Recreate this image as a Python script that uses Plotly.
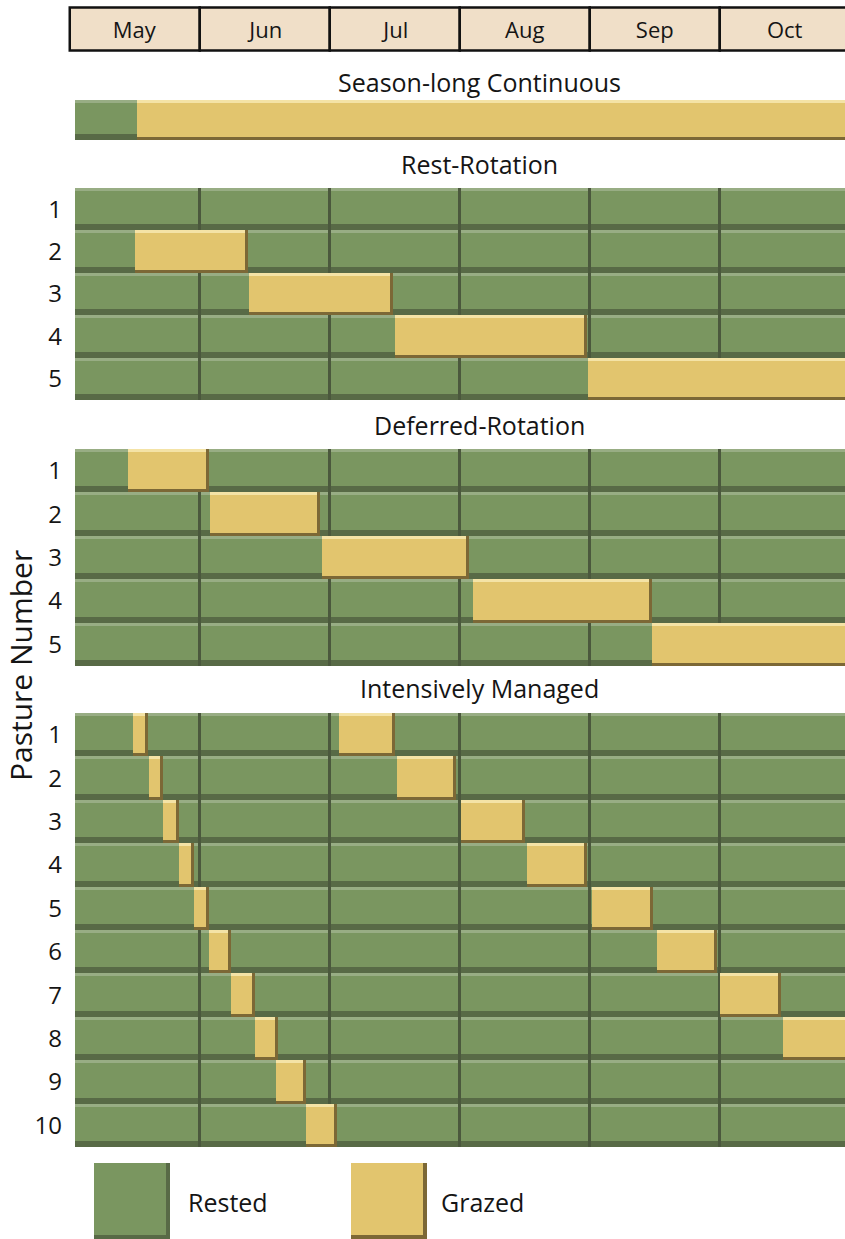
import plotly.graph_objects as go

# ---------------- data ----------------
MONTHS = ["May", "Jun", "Jul", "Aug", "Sep", "Oct"]
MONTH_START = [0, 1, 2, 3, 4, 5]
SEASON_START = 0.0
SEASON_END = 6.0

GROUP_TITLES = ["Season-long Continuous", "Rest-Rotation", "Deferred-Rotation", "Intensively Managed"]
GROUP_ROWS = [1, 5, 5, 10]

# grazed periods (months after May 1)
CONT_ROWS = [1]
CONT_START = [0.52]
CONT_END = [6.0]

REST_ROWS = [2, 3, 4, 5]
REST_START = [0.50, 1.38, 2.50, 3.99]
REST_END = [1.37, 2.49, 3.98, 6.0]

DEF_ROWS = [1, 2, 3, 4, 5]
DEF_START = [0.45, 1.08, 1.94, 3.10, 4.48]
DEF_END = [1.07, 1.93, 3.07, 4.48, 6.0]

INT1_ROWS = [1, 2, 3, 4, 5, 6, 7, 8, 9, 10]
INT1_START = [0.49, 0.61, 0.72, 0.84, 0.96, 1.07, 1.24, 1.43, 1.59, 1.82]
INT1_END = [0.60, 0.72, 0.84, 0.96, 1.07, 1.24, 1.43, 1.60, 1.82, 2.06]

INT2_ROWS = [1, 2, 3, 4, 5, 6, 7, 8]
INT2_START = [2.07, 2.52, 3.01, 3.52, 4.02, 4.52, 5.00, 5.49]
INT2_END = [2.50, 2.97, 3.50, 3.98, 4.49, 4.98, 5.47, 6.0]

LEGEND_LABELS = ["Rested", "Grazed"]

# ---------------- layout constants ----------------
W, H = 845, 1239
FONT = "Open Sans"
TXT = "#151515"
X0_PX, PPM = 69.5, 130.0     # pixel of May 1, pixels per month
PLOT_LEFT = 75
GROUP_TOP = [100, 188, 449, 713]
GROUP_BOTTOM = [140, 400, 666, 1147]
TITLE_Y = [82, 164, 425, 688]
TITLE_X = 479

GREEN = "#7a9660"
GREEN_HI = "#98ad84"
GREEN_LO = "#586a46"
DIVIDER = "#4b583d"
YELLOW = "#e2c56e"
YELLOW_HI = "#f4e3a6"
YELLOW_LO = "#7c6836"
HEADER_BG = "#f0dfc8"


def px_to_paper_y(py):
    return 1 - py / H


fig = go.Figure()

grazed = [
    [(CONT_ROWS, CONT_START, CONT_END)],
    [(REST_ROWS, REST_START, REST_END)],
    [(DEF_ROWS, DEF_START, DEF_END)],
    [(INT1_ROWS, INT1_START, INT1_END), (INT2_ROWS, INT2_START, INT2_END)],
]


def hbar(ya, rows, base, length, color, offset, width):
    fig.add_trace(go.Bar(
        orientation="h", y=rows, base=base, x=length,
        marker=dict(color=color, line=dict(width=0)),
        offset=offset, width=width, xaxis="x", yaxis=ya,
        hoverinfo="skip", showlegend=False))


for g, n in enumerate(GROUP_ROWS):
    ya = "y" if g == 0 else f"y{g + 1}"
    pitch = (GROUP_BOTTOM[g] - GROUP_TOP[g]) / n
    t_hi = 3.0 / pitch
    t_lo = 6.0 / pitch
    rows = list(range(1, n + 1))
    full = [SEASON_END - SEASON_START] * n
    basev = [SEASON_START] * n
    # rested background
    hbar(ya, rows, basev, full, GREEN, -0.5, 1.0)
    hbar(ya, rows, basev, full, GREEN_HI, -0.5, t_hi)
    hbar(ya, rows, basev, full, GREEN_LO, 0.5 - t_lo, t_lo)
    # month dividers
    if g > 0:
        d = 3.0 / PPM
        drows, dbase, dlen = [], [], []
        for r in rows:
            for m in MONTH_START[1:]:
                drows.append(r)
                dbase.append(m - d / 2)
                dlen.append(d)
        hbar(ya, drows, dbase, dlen, DIVIDER, -0.5, 1.0)
    # grazed
    for (gr, gs, ge) in grazed[g]:
        glen = [e - s for s, e in zip(gs, ge)]
        hbar(ya, gr, gs, glen, YELLOW, -0.5, 1.0)
        hbar(ya, gr, gs, glen, YELLOW_HI, -0.5, t_hi)
        dr = 3.0 / PPM
        hbar(ya, gr, [e - dr for e in ge], [dr] * len(ge), YELLOW_LO, -0.5, 1.0)
        hbar(ya, gr, gs, glen, YELLOW_LO, 0.5 - 3.0 / pitch, 3.0 / pitch)

# header
fig.add_trace(go.Bar(
    orientation="h", y=[0] * len(MONTHS), base=MONTH_START, x=[1] * len(MONTHS),
    width=1.0, text=MONTHS, textposition="inside", insidetextanchor="middle",
    constraintext="none",
    textfont=dict(family=FONT, size=22, color=TXT),
    marker=dict(color=HEADER_BG, line=dict(color="#111111", width=2.5)),
    xaxis="x2", yaxis="y5", hoverinfo="skip", showlegend=False))

layout_axes = {}
layout_axes["xaxis"] = dict(domain=[PLOT_LEFT / W, 1],
                            range=[(PLOT_LEFT - X0_PX) / PPM, (W - X0_PX) / PPM],
                            visible=False, anchor="y", fixedrange=True)
layout_axes["xaxis2"] = dict(domain=[0, 1], range=[-X0_PX / PPM, (W - X0_PX) / PPM],
                             visible=False, anchor="y5", fixedrange=True)
for g, n in enumerate(GROUP_ROWS):
    key = "yaxis" if g == 0 else f"yaxis{g + 1}"
    layout_axes[key] = dict(
        domain=[px_to_paper_y(GROUP_BOTTOM[g]), px_to_paper_y(GROUP_TOP[g])],
        range=[n + 0.5, 0.5], anchor="x",
        tickmode="array", tickvals=list(range(1, n + 1)),
        ticktext=[str(i) for i in range(1, n + 1)],
        showticklabels=(g > 0), ticks="", ticklabelstandoff=12,
        showgrid=False, zeroline=False, showline=False,
        tickfont=dict(family=FONT, size=24, color=TXT), fixedrange=True)
hdr_top, hdr_bot = 8, 51
unit = hdr_bot - hdr_top
layout_axes["yaxis5"] = dict(
    domain=[px_to_paper_y(hdr_bot + 0.05 * unit), px_to_paper_y(hdr_top - 0.05 * unit)],
    range=[-0.55, 0.55], visible=False, anchor="x2", fixedrange=True)

annotations = []
for g, title in enumerate(GROUP_TITLES):
    annotations.append(dict(text=title, x=TITLE_X / W, y=px_to_paper_y(TITLE_Y[g]),
                            xref="paper", yref="paper", showarrow=False,
                            xanchor="center", yanchor="middle",
                            font=dict(family=FONT, size=25, color=TXT)))
annotations.append(dict(text="Pasture Number", x=21 / W, y=px_to_paper_y(666),
                        xref="paper", yref="paper", showarrow=False, textangle=-90,
                        xanchor="center", yanchor="middle",
                        font=dict(family=FONT, size=30, color=TXT)))

# legend swatches
shapes = []
LEG_X = [94, 351]
LEG_TEXT_X = [186, 439]
LEG_COLORS = [(GREEN, GREEN_LO), (YELLOW, YELLOW_LO)]
sw, top, bot = 76, 1163, 1239
for i, lab in enumerate(LEGEND_LABELS):
    x0 = LEG_X[i]
    main, dark = LEG_COLORS[i]
    shapes.append(dict(type="rect", xref="paper", yref="paper",
                       x0=x0 / W, x1=(x0 + sw) / W, y0=px_to_paper_y(bot), y1=px_to_paper_y(top),
                       fillcolor=main, line=dict(width=0)))
    shapes.append(dict(type="rect", xref="paper", yref="paper",
                       x0=(x0 + sw - 4) / W, x1=(x0 + sw) / W, y0=px_to_paper_y(bot), y1=px_to_paper_y(top),
                       fillcolor=dark, line=dict(width=0)))
    shapes.append(dict(type="rect", xref="paper", yref="paper",
                       x0=x0 / W, x1=(x0 + sw) / W, y0=px_to_paper_y(bot), y1=px_to_paper_y(bot - 4),
                       fillcolor=dark, line=dict(width=0)))
    annotations.append(dict(text=lab, x=LEG_TEXT_X[i] / W, y=px_to_paper_y(1202),
                            xref="paper", yref="paper", showarrow=False,
                            xanchor="left", yanchor="middle",
                            font=dict(family=FONT, size=25, color=TXT)))

fig.update_layout(
    width=W, height=H, margin=dict(l=0, r=0, t=0, b=0),
    paper_bgcolor="white", plot_bgcolor="rgba(0,0,0,0)",
    barmode="overlay", bargap=0, showlegend=False,
    annotations=annotations, shapes=shapes, **layout_axes)

fig.write_html("out.html", config={"displayModeBar": False},
               post_script="document.body.style.margin='0';document.body.style.overflow='hidden';")
